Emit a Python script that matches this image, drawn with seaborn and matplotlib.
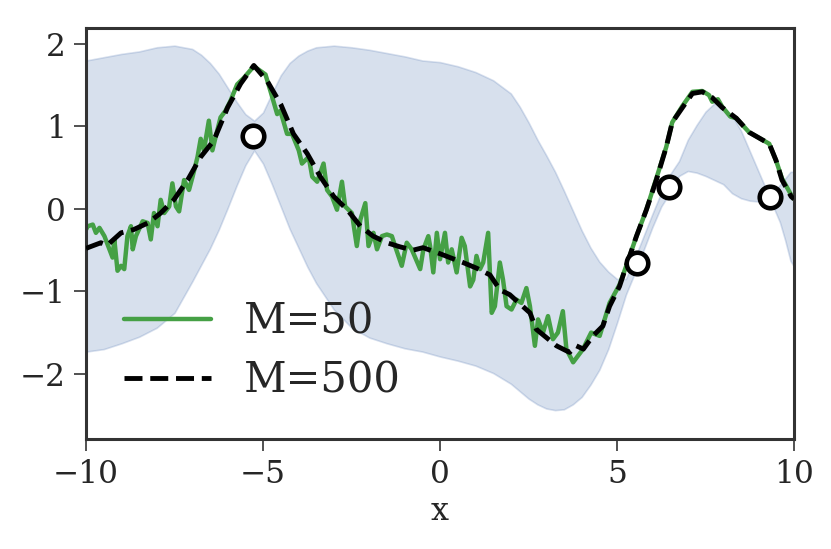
import numpy as np
import pandas as pd
import matplotlib
matplotlib.use("Agg")
import matplotlib.pyplot as plt
import seaborn as sns

# band (shaded region), read at a common x grid
band_x = [-10, -9.5, -9, -8.5, -8, -7.5, -7, -6.75, -6.5, -6.25, -6, -5.75, -5.5, -5.25,
          -5, -4.75, -4.5, -4.25, -4, -3.75, -3.5, -3, -2.5, -2, -1.5, -1, -0.5, 0, 0.5,
          1, 1.5, 2, 2.25, 2.5, 2.75, 3, 3.25, 3.5, 3.75, 4, 4.25, 4.5, 4.75, 5, 5.25,
          5.5, 5.75, 6, 6.25, 6.5, 6.75, 7, 7.25, 7.5, 7.75, 8, 8.25, 8.5, 8.75, 9,
          9.15, 9.3, 9.45, 9.6, 9.75, 9.9, 10]
band_hi = [1.80, 1.84, 1.88, 1.91, 1.96, 1.98, 1.94, 1.87, 1.77, 1.64, 1.47, 1.30, 1.15, 1.07,
           1.17, 1.40, 1.62, 1.77, 1.86, 1.92, 1.96, 1.98, 1.96, 1.93, 1.89, 1.85, 1.80, 1.78, 1.73,
           1.66, 1.56, 1.40, 1.24, 1.05, 0.84, 0.65, 0.45, 0.22, -0.02, -0.26, -0.47, -0.64, -0.76, -0.85, -0.85,
           -0.60, -0.33, -0.06, 0.20, 0.42, 0.58, 0.84, 1.02, 1.18, 1.28, 1.24, 1.13, 0.95, 0.70, 0.45,
           0.30, 0.17, 0.22, 0.29, 0.37, 0.45, 0.45]
band_lo = [-1.73, -1.70, -1.63, -1.55, -1.44, -1.26, -0.88, -0.68, -0.48, -0.25, 0.01, 0.28, 0.53, 0.71,
           0.55, 0.30, 0.03, -0.24, -0.47, -0.70, -0.90, -1.22, -1.44, -1.56, -1.63, -1.69, -1.73, -1.79, -1.84,
           -1.90, -1.99, -2.12, -2.21, -2.30, -2.37, -2.42, -2.44, -2.43, -2.37, -2.28, -2.13, -1.95, -1.70, -1.38, -1.04,
           -0.78, -0.50, -0.22, 0.03, 0.20, 0.40, 0.46, 0.44, 0.40, 0.35, 0.30, 0.19, 0.13, 0.10, 0.09,
           0.10, 0.12, -0.01, -0.16, -0.38, -0.63, -0.70]

# M=50 (green, noisy)
m50_x = [-10.0, -9.95, -9.81, -9.72, -9.62, -9.48, -9.34, -9.25, -9.20, -9.11, -9.01, -8.92, -8.83,
         -8.73, -8.68, -8.59, -8.40, -8.26, -8.17, -8.08, -7.98, -7.89, -7.79, -7.65, -7.56, -7.46,
         -7.37, -7.23, -7.09, -6.99, -6.85, -6.76, -6.67, -6.53, -6.43, -6.34, -6.20, -6.06, -5.92,
         -5.73, -5.54, -5.26, -4.93, -4.79, -4.60, -4.51, -4.32, -4.18, -3.99, -3.90, -3.71, -3.61,
         -3.47, -3.29, -3.19, -3.05, -2.91, -2.77, -2.68, -2.49, -2.35, -2.25, -2.11, -2.02, -1.88,
         -1.78, -1.64, -1.50, -1.36, -1.27, -1.08, -0.94, -0.80, -0.56, -0.47, -0.33, -0.28, -0.19,
         -0.09, 0.0, 0.14, 0.23, 0.33, 0.47, 0.61, 0.70, 0.85, 0.94, 1.03, 1.13, 1.22, 1.36, 1.46,
         1.55, 1.69, 1.78, 1.88, 2.02, 2.16, 2.30, 2.44, 2.54, 2.68, 2.77, 2.91, 3.05, 3.19, 3.33,
         3.47, 3.57, 3.76, 3.90, 4.04, 4.13, 4.27, 4.51, 4.79, 5.07, 5.27, 5.55, 5.83, 6.11, 6.39,
         6.56, 6.85, 7.13, 7.41, 7.60, 7.69, 7.85, 7.97, 8.20, 8.37, 8.73, 9.30, 9.49, 9.66, 9.92, 10.0]
m50_y = [-0.25, -0.21, -0.19, -0.29, -0.23, -0.33, -0.49, -0.59, -0.37, -0.75, -0.69, -0.73, -0.33,
         -0.21, -0.49, -0.33, -0.15, -0.17, -0.37, -0.05, -0.21, 0.11, -0.05, 0.03, 0.31, 0.03,
         -0.03, 0.35, 0.23, 0.39, 0.63, 0.85, 0.71, 1.07, 0.71, 0.87, 1.11, 1.19, 1.31,
         1.51, 1.59, 1.73, 1.63, 1.43, 1.15, 1.19, 0.91, 0.91, 0.71, 0.55, 0.63, 0.39,
         0.33, 0.55, 0.23, 0.15, -0.01, 0.33, 0.03, -0.05, -0.45, -0.13, 0.07, -0.45, -0.29,
         -0.49, -0.33, -0.31, -0.33, -0.45, -0.69, -0.41, -0.49, -0.73, -0.49, -0.33, -0.45, -0.77,
         -0.29, -0.61, -0.29, -0.65, -0.49, -0.77, -0.35, -0.45, -0.94, -0.86, -0.57, -0.73, -0.65, -0.29, -1.26,
         -1.18, -0.65, -0.86, -1.18, -1.22, -1.10, -1.14, -0.96, -1.18, -1.66, -1.34, -1.50, -1.30, -1.58, -1.50,
         -1.24, -1.70, -1.86, -1.78, -1.70, -1.62, -1.50, -1.54, -1.14, -0.92, -0.68, -0.33, -0.01, 0.37, 0.75,
         1.05, 1.25, 1.42, 1.43, 1.38, 1.30, 1.33, 1.24, 1.12, 1.10, 0.93, 0.79, 0.59, 0.37, 0.17, 0.12]

# M=500 (black dashed)
m500_x = [-10.0, -9.95, -9.58, -9.40, -9.01, -8.65, -8.25, -7.89, -7.52, -7.13, -6.76, -6.39, -6.0,
          -5.63, -5.26, -4.88, -4.5, -4.14, -3.75, -3.38, -3.0, -2.62, -2.25, -1.89, -1.5, -1.13,
          -0.76, -0.48, -0.08, 0.28, 0.65, 1.04, 1.41, 1.69, 1.97, 2.54, 2.72, 3.29, 3.66, 3.85,
          4.05, 4.32, 4.60, 4.79, 5.07, 5.27, 5.55, 5.83, 6.11, 6.39, 6.56, 6.85, 7.13, 7.41, 7.69,
          7.97, 8.37, 8.73, 9.30, 9.49, 9.66, 9.92, 10.0]
m500_y = [-0.48, -0.47, -0.41, -0.44, -0.29, -0.25, -0.17, -0.05, 0.11, 0.35, 0.63, 0.83, 1.23,
          1.52, 1.74, 1.55, 1.27, 0.91, 0.67, 0.39, 0.15, -0.01, -0.21, -0.33, -0.41, -0.46,
          -0.50, -0.47, -0.53, -0.59, -0.65, -0.72, -0.80, -0.98, -1.04, -1.26, -1.46, -1.66, -1.74, -1.66,
          -1.70, -1.54, -1.42, -1.18, -0.94, -0.68, -0.33, -0.01, 0.35, 0.75, 1.05, 1.23, 1.40, 1.42, 1.35,
          1.23, 1.10, 0.93, 0.79, 0.59, 0.35, 0.15, 0.12]

# observations
obs_x = [-5.27, 5.56, 6.47, 9.32]
obs_y = [0.88, -0.65, 0.27, 0.14]

sns.set_theme(style="ticks")
plt.rcParams['font.family'] = ['DejaVu Serif']
plt.rcParams['mathtext.fontset'] = 'dejavuserif'

fig, ax = plt.subplots(figsize=(8.31, 5.49), dpi=100)
fig.subplots_adjust(left=0.1035, right=0.9555, bottom=0.2004, top=0.9484)

ax.fill_between(band_x, band_lo, band_hi, color='#4c72b0', alpha=0.22, linewidth=1.2, zorder=1)

green = pd.DataFrame({'x': m50_x, 'y': m50_y})
black = pd.DataFrame({'x': m500_x, 'y': m500_y})
sns.lineplot(data=green, x='x', y='y', sort=False, estimator=None, color='#45a045',
             linewidth=3.2, label='M=50', ax=ax, zorder=2)
sns.lineplot(data=black, x='x', y='y', sort=False, estimator=None, color='black',
             linewidth=3.5, linestyle='--', label='M=500', ax=ax, zorder=3)
ax.plot(obs_x, obs_y, 'o', ms=15.5, mfc='white', mec='black', mew=3.3, zorder=4)

ax.set_xlim(-10, 10)
ax.set_ylim(-2.79, 2.19)
ax.set_xticks([-10, -5, 0, 5, 10])
ax.set_yticks([-2, -1, 0, 1, 2])
ax.set_xlabel('x', fontsize=23, labelpad=4)
ax.set_ylabel('')
ax.tick_params(labelsize=22.5, length=8.5, width=1.2, pad=6, color='#333333')
for s in ax.spines.values():
    s.set_linewidth(2.2)
    s.set_color('#333333')

ax.legend(loc='lower left', frameon=False, fontsize=30, labelspacing=0.4,
          handlelength=2.1, handletextpad=0.8)

plt.savefig('out.png', dpi=100)
